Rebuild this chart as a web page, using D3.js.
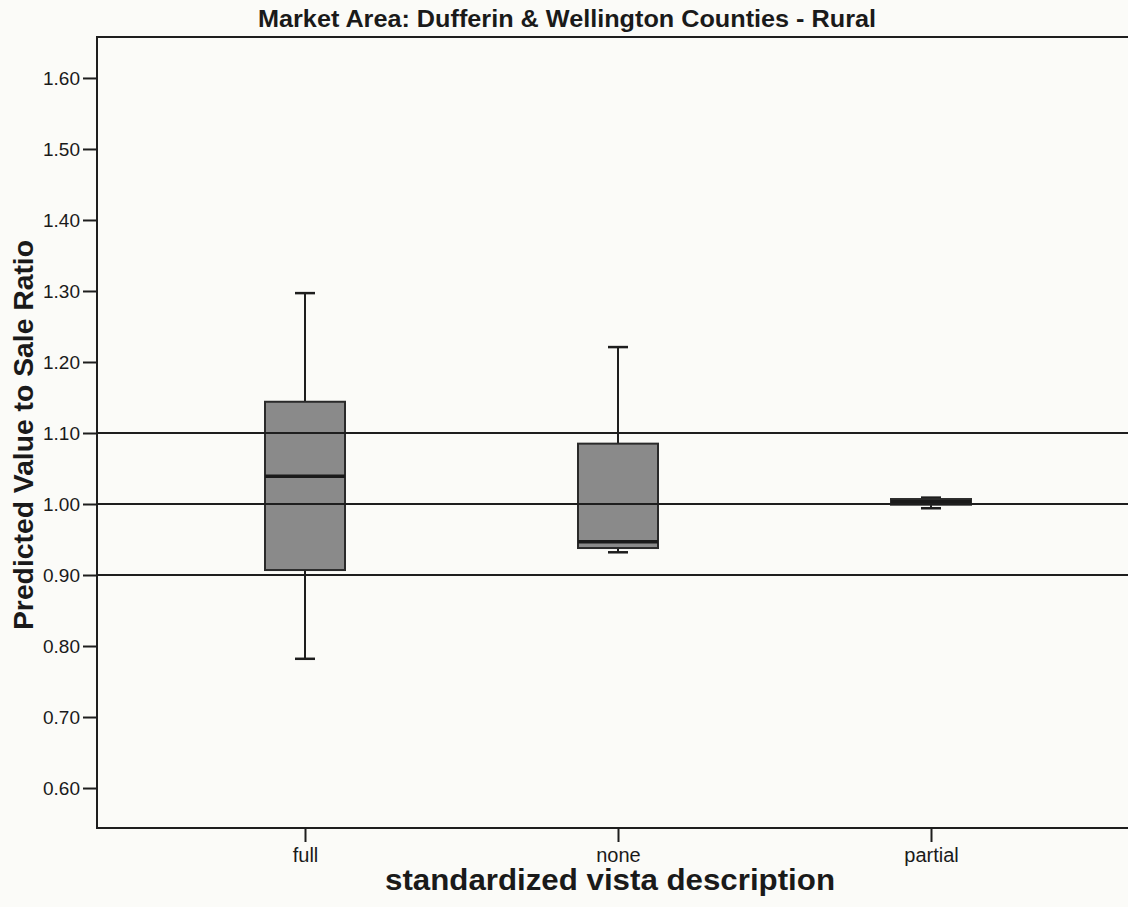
<!DOCTYPE html>
<html>
<head>
<meta charset="utf-8">
<script src="https://cdn.jsdelivr.net/npm/d3@7"></script>
<style>
  html, body { margin: 0; padding: 0; background: #fbfbf8; }
  svg { display: block; }
  text { font-family: "Liberation Sans", Arial, sans-serif; fill: #1a1a1a; }
</style>
</head>
<body>
<svg id="chart" width="1128" height="907"></svg>
<script>
// Vista categories and their box-plot summaries (predicted value / sale ratio)
const categories = ["full", "none", "partial"];
const whiskerLow  = [0.782, 0.932, 0.994];
const quartile1   = [0.907, 0.938, 0.999];
const medians     = [1.039, 0.947, 1.003];
const quartile3   = [1.144, 1.085, 1.007];
const whiskerHigh = [1.297, 1.221, 1.009];

// Horizontal reference lines
const referenceLines = [0.90, 1.00, 1.10];

// Y axis ticks
const yTicks = [0.60, 0.70, 0.80, 0.90, 1.00, 1.10, 1.20, 1.30, 1.40, 1.50, 1.60];

const titleText = "Market Area: Dufferin & Wellington Counties - Rural";
const xTitle = "standardized vista description";
const yTitle = "Predicted Value to Sale Ratio";

const svg = d3.select("#chart");
const plot = { left: 97, top: 37, right: 1170, bottom: 828 };

const y = d3.scaleLinear().domain([0.5437, 1.6577]).range([plot.bottom, plot.top]);
const x = d3.scalePoint().domain(categories).range([305, 931]);

const ink = "#1e1e1e";
const boxW = 80, capW = 20;

// Frame top line
svg.append("line").attr("x1", plot.left - 1).attr("x2", plot.right)
  .attr("y1", plot.top).attr("y2", plot.top)
  .attr("stroke", ink).attr("stroke-width", 2);

// Y axis
const yAxis = d3.axisLeft(y).tickValues(yTicks).tickFormat(d3.format(".2f"))
  .tickSize(14).tickPadding(3);
const gy = svg.append("g").attr("transform", `translate(${plot.left},0)`).call(yAxis);
gy.select(".domain").remove();
gy.selectAll(".tick line").attr("stroke", ink).attr("stroke-width", 2);
gy.selectAll(".tick text").style("font-size", "19px").attr("fill", "#1a1a1a");
svg.append("line").attr("x1", plot.left).attr("x2", plot.left)
  .attr("y1", plot.top - 1).attr("y2", plot.bottom + 1)
  .attr("stroke", ink).attr("stroke-width", 2);

// X axis
const xAxis = d3.axisBottom(x).tickSize(14).tickPadding(6);
const gx = svg.append("g").attr("transform", `translate(0,${plot.bottom})`).call(xAxis);
gx.select(".domain").remove();
gx.selectAll(".tick line").attr("stroke", ink).attr("stroke-width", 2);
gx.selectAll(".tick text").style("font-size", "20px").attr("fill", "#1a1a1a");
svg.append("line").attr("x1", plot.left - 1).attr("x2", plot.right)
  .attr("y1", plot.bottom).attr("y2", plot.bottom)
  .attr("stroke", ink).attr("stroke-width", 2);

// Boxes
const stats = categories.map((c, i) => ({
  c, lo: whiskerLow[i], q1: quartile1[i], med: medians[i], q3: quartile3[i], hi: whiskerHigh[i]
}));

const g = svg.append("g");
stats.forEach(s => {
  const cx = x(s.c);
  // whiskers
  g.append("line").attr("x1", cx).attr("x2", cx).attr("y1", y(s.hi)).attr("y2", y(s.q3))
    .attr("stroke", ink).attr("stroke-width", 2);
  g.append("line").attr("x1", cx).attr("x2", cx).attr("y1", y(s.q1)).attr("y2", y(s.lo))
    .attr("stroke", ink).attr("stroke-width", 2);
  g.append("line").attr("x1", cx - capW / 2).attr("x2", cx + capW / 2)
    .attr("y1", y(s.hi)).attr("y2", y(s.hi)).attr("stroke", ink).attr("stroke-width", 2.5);
  g.append("line").attr("x1", cx - capW / 2).attr("x2", cx + capW / 2)
    .attr("y1", y(s.lo)).attr("y2", y(s.lo)).attr("stroke", ink).attr("stroke-width", 2.5);
  // box
  g.append("rect").attr("x", cx - boxW / 2).attr("width", boxW)
    .attr("y", y(s.q3)).attr("height", y(s.q1) - y(s.q3))
    .attr("fill", "#8a8a8a").attr("stroke", "#2a2a2a").attr("stroke-width", 2);
  // median
  g.append("line").attr("x1", cx - boxW / 2).attr("x2", cx + boxW / 2)
    .attr("y1", y(s.med)).attr("y2", y(s.med))
    .attr("stroke", "#1a1a1a").attr("stroke-width", 3.5);
});

// Reference lines drawn across the plot, on top of the boxes
svg.append("g").selectAll("line").data(referenceLines).join("line")
  .attr("x1", plot.left).attr("x2", plot.right)
  .attr("y1", d => y(d)).attr("y2", d => y(d))
  .attr("stroke", ink).attr("stroke-width", 2);

// Titles
svg.append("text").attr("x", 258).attr("y", 27)
  .attr("textLength", 618).attr("lengthAdjust", "spacingAndGlyphs")
  .style("font-size", "23px").style("font-weight", "bold").text(titleText);
svg.append("text").attr("x", 385).attr("y", 890)
  .attr("textLength", 450).attr("lengthAdjust", "spacingAndGlyphs")
  .style("font-size", "29px").style("font-weight", "bold").text(xTitle);
svg.append("text").attr("transform", "translate(33,630) rotate(-90)")
  .attr("textLength", 390).attr("lengthAdjust", "spacingAndGlyphs")
  .style("font-size", "27px").style("font-weight", "bold").text(yTitle);
</script>
</body>
</html>
